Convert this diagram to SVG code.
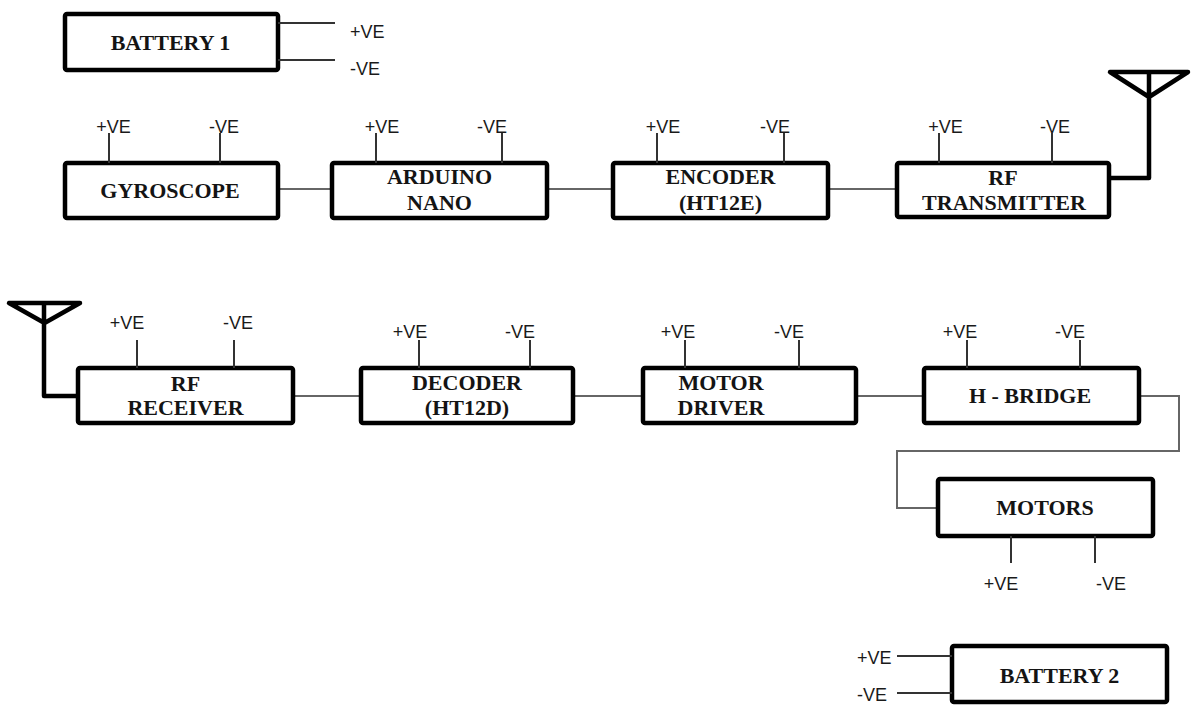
<svg xmlns="http://www.w3.org/2000/svg" width="1194" height="706" viewBox="0 0 1194 706">
<style>
.box{fill:#fff;stroke:#000;stroke-width:4.5}
.t{font-family:"Liberation Serif","Times New Roman",serif;font-weight:bold;font-size:22px;fill:#141414;text-anchor:middle}
.l{font-family:"Liberation Sans",Arial,sans-serif;font-size:18px;fill:#1a1a1a;text-anchor:middle}
.ls{font-family:"Liberation Sans",Arial,sans-serif;font-size:18px;fill:#1a1a1a}
.pin{stroke:#333;stroke-width:2;fill:none}
.wire{stroke:#666;stroke-width:2;fill:none}
.ant{stroke:#000;stroke-width:4.5;fill:none;stroke-linejoin:round}
</style>
<rect width="1194" height="706" fill="#fff"/>
<g id="connectors">
<path class="wire" d="M278 189H332M547 189H613M828 189H897"/>
<path class="wire" d="M293 396H361M573 396H643M856 396H924"/>
<path class="wire" d="M1139 396H1179V451H897V508H938"/>
<path class="ant" d="M1109 178H1149V72M1110 72H1188L1149 97Z"/>
<path class="ant" d="M78 396H44V303M9 303H80L44.5 323Z"/>
</g>
<g id="battery1">
<rect class="box" x="65" y="14" width="213" height="56" rx="2"/>
<text class="t" x="170.5" y="50">BATTERY 1</text>
<path class="pin" d="M278 23H335M278 60H335"/>
<text class="ls" x="350" y="38">+VE</text>
<text class="ls" x="350" y="75">-VE</text>
</g>
<g id="gyroscope">
<rect class="box" x="65" y="163" width="213" height="55" rx="2"/>
<text class="t" x="170" y="198">GYROSCOPE</text>
<path class="pin" d="M109 133V163M220 133V163"/>
<text class="l" x="113.5" y="133">+VE</text>
<text class="l" x="224" y="133">-VE</text>
</g>
<g id="arduino">
<rect class="box" x="332" y="163" width="215" height="55" rx="2"/>
<text class="t" x="439.5" y="184">ARDUINO</text>
<text class="t" x="439.5" y="210">NANO</text>
<path class="pin" d="M376 133V163M502 133V163"/>
<text class="l" x="382" y="133">+VE</text>
<text class="l" x="492" y="133">-VE</text>
</g>
<g id="encoder">
<rect class="box" x="613" y="163" width="215" height="55" rx="2"/>
<text class="t" x="720.5" y="184">ENCODER</text>
<text class="t" x="720.5" y="210">(HT12E)</text>
<path class="pin" d="M657 133V163M784 133V163"/>
<text class="l" x="663" y="133">+VE</text>
<text class="l" x="775" y="133">-VE</text>
</g>
<g id="rf-transmitter">
<rect class="box" x="897" y="163" width="212" height="54" rx="2"/>
<text class="t" x="1003" y="185">RF</text>
<text class="t" x="1004" y="210">TRANSMITTER</text>
<path class="pin" d="M939 133V163M1052 133V163"/>
<text class="l" x="945.5" y="133">+VE</text>
<text class="l" x="1055" y="133">-VE</text>
</g>
<g id="rf-receiver">
<rect class="box" x="78" y="368" width="215" height="55" rx="2"/>
<text class="t" x="185.5" y="391">RF</text>
<text class="t" x="185.5" y="415">RECEIVER</text>
<path class="pin" d="M137 340V368M234 340V368"/>
<text class="l" x="127" y="329">+VE</text>
<text class="l" x="238" y="329">-VE</text>
</g>
<g id="decoder">
<rect class="box" x="361" y="368" width="212" height="55" rx="2"/>
<text class="t" x="467" y="390">DECODER</text>
<text class="t" x="467" y="415">(HT12D)</text>
<path class="pin" d="M419 340V368M530 340V368"/>
<text class="l" x="410" y="338">+VE</text>
<text class="l" x="520" y="338">-VE</text>
</g>
<g id="motor-driver">
<rect class="box" x="643" y="368" width="213" height="55" rx="2"/>
<text class="t" x="721" y="390">MOTOR</text>
<text class="t" x="721" y="415">DRIVER</text>
<path class="pin" d="M685 340V368M799 340V368"/>
<text class="l" x="678" y="338">+VE</text>
<text class="l" x="789" y="338">-VE</text>
</g>
<g id="h-bridge">
<rect class="box" x="924" y="368" width="215" height="55" rx="2"/>
<text class="t" x="1030" y="403">H - BRIDGE</text>
<path class="pin" d="M967 340V368M1080 340V368"/>
<text class="l" x="960" y="338">+VE</text>
<text class="l" x="1070" y="338">-VE</text>
</g>
<g id="motors">
<rect class="box" x="938" y="479" width="215" height="57" rx="2"/>
<text class="t" x="1045" y="515">MOTORS</text>
<path class="pin" d="M1011 536V563M1095 536V563"/>
<text class="l" x="1001" y="590">+VE</text>
<text class="l" x="1111" y="590">-VE</text>
</g>
<g id="battery2">
<rect class="box" x="952" y="646" width="215" height="56" rx="2"/>
<text class="t" x="1059.5" y="683">BATTERY 2</text>
<path class="pin" d="M897 656H952M897 693H952"/>
<text class="ls" x="857" y="664">+VE</text>
<text class="ls" x="857" y="701">-VE</text>
</g>
</svg>
